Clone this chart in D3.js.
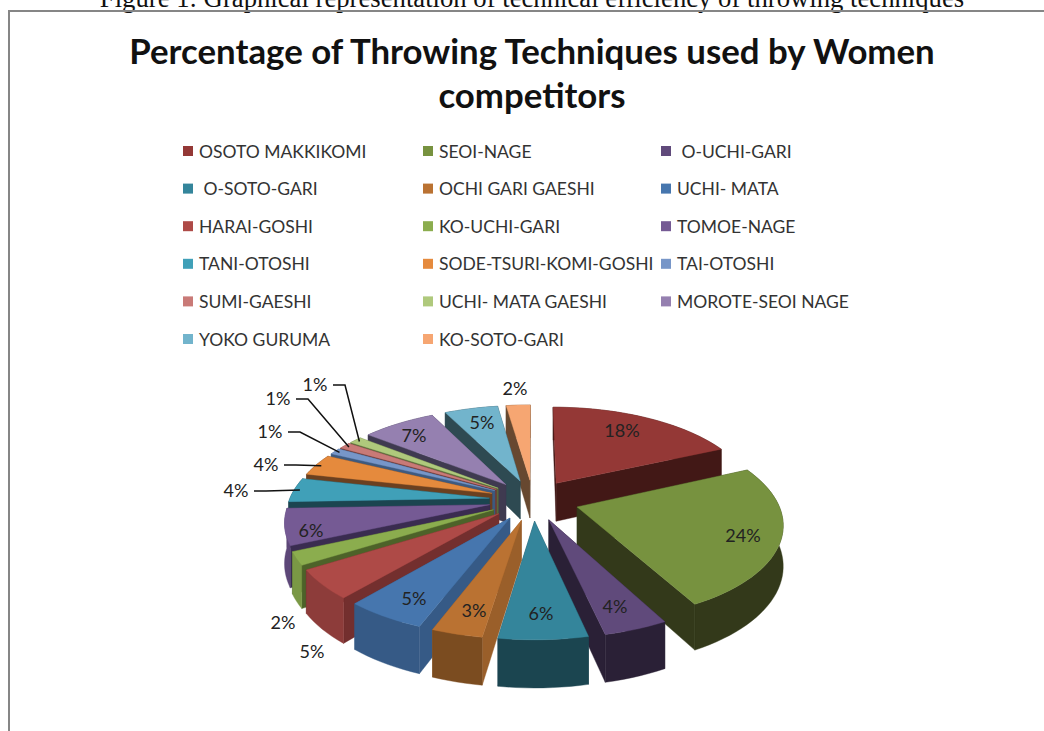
<!DOCTYPE html>
<html lang="en">
<head>
<meta charset="UTF-8">
<title>Percentage of Throwing Techniques used by Women competitors</title>
<script src="https://d3js.org/d3.v7.min.js"></script>
<style>
    html, body { margin: 0; padding: 0; background: #fff; overflow: hidden; }
    svg { display: block; }
    text { font-family: Lato, "Open Sans", sans-serif; fill: #222; }
    .caption { font-family: "Liberation Serif", serif; font-size: 26.7px; fill: #111; }
    .title { font-size: 34.8px; font-weight: 700; fill: #111; }
    .legend-label { font-size: 17.5px; fill: #333; }
    .pct { font-size: 18px; fill: #222; }
</style>
</head>
<body>
<div id="chart"></div>
<script>
// Data
const techniques = ["OSOTO MAKKIKOMI", "SEOI-NAGE", " O-UCHI-GARI", " O-SOTO-GARI", "OCHI GARI GAESHI", "UCHI- MATA",
    "HARAI-GOSHI", "KO-UCHI-GARI", "TOMOE-NAGE", "TANI-OTOSHI", "SODE-TSURI-KOMI-GOSHI", "TAI-OTOSHI",
    "SUMI-GAESHI", "UCHI- MATA GAESHI", "MOROTE-SEOI NAGE", "YOKO GURUMA", "KO-SOTO-GARI"];
const percents = [18.2, 24.0, 4.3, 5.9, 3.4, 5.4, 4.9, 2.2, 6.1, 4.1, 3.7, 1.1, 1.1, 1.2, 7.0, 5.1, 2.3];

// Palette
const topColors = ["#943836", "#77923f", "#604a7b", "#34859b", "#ba7232", "#4676ae", "#ae4a47", "#8bad4e",
    "#755a94", "#40a0b8", "#e58a3d", "#7796c8", "#c97a77", "#afc97c", "#9580b0", "#72b4cc", "#f6a672"];
const wallColors = ["#421816", "#33391a", "#2a2036", "#1b4550", "#9a5f2a", "#365a86", "#732f2e", "#4d6229",
    "#3a2c50", "#1b4550", "#6b4020", "#3d5a80", "#6e3a38", "#5a6b3a", "#3f3a50", "#2e4a52", "#674830"];
const rimColors = ["#421816", "#33391a", "#2a2036", "#1b4550", "#7b4c20", "#365a86", "#8d3c3a", "#7a9845",
    "#5d4778", "#1b4550", "#6b4020", "#3d5a80", "#6e3a38", "#5a6b3a", "#3f3a50", "#2e4a52", "#674830"];

const width = 1044, height = 731;

// Manual placement of percentage labels, [x, y] is the text centre
const labelAt = [[622, 430], [743, 535], [615, 606], [541, 613], [474, 610], [414, 598], [312, 651], [283, 622],
    [311, 530], [236, 490], [266, 464], [270, 431], [278, 398], [315, 384], [414, 435], [482, 422], [515, 388]];
// Labels which have a leader line back to their slice
const leaders = { 9: 1, 10: 1, 11: 1, 12: 1, 13: 1 };

const svg = d3.select("#chart").append("svg")
    .attr("width", width)
    .attr("height", height);

svg.append("text").attr("class", "caption")
    .attr("x", 532).attr("y", 7).attr("text-anchor", "middle")
    .text("Figure 1: Graphical representation of technical efficiency of throwing techniques");

// Frame, the right side runs off the page
svg.append("path")
    .attr("d", "M9,731V11H1044")
    .attr("fill", "none")
    .attr("stroke", "#868686")
    .attr("stroke-width", 2);

svg.append("text").attr("class", "title").attr("x", 532).attr("y", 64)
    .attr("text-anchor", "middle").text("Percentage of Throwing Techniques used by Women");
svg.append("text").attr("class", "title").attr("x", 532).attr("y", 108)
    .attr("text-anchor", "middle").text("competitors");

// Legend, three columns
const legendX = d3.scaleOrdinal().domain([0, 1, 2]).range([183, 423, 661]);
const legendY = d3.scalePoint().domain(d3.range(6)).range([151, 339]);

const legend = svg.append("g").selectAll("g")
    .data(techniques)
    .join("g")
    .attr("transform", (d, i) => `translate(${legendX(i % 3)},${legendY(Math.floor(i / 3))})`);

legend.append("rect")
    .attr("y", -5).attr("width", 10).attr("height", 10)
    .attr("fill", (d, i) => topColors[i]);

legend.append("text")
    .attr("class", "legend-label")
    .attr("x", 16).attr("y", 6.5)
    .attr("xml:space", "preserve")
    .text(d => d);

// Exploded 3D pie
const cx = 533, cy = 500;
const radiusX = 200, radiusY = 92.8;
const perspective = 0.156, depth = 39;
const explode = i => i === 1 ? 0.23 : 0.22;

// x and y are in the pie plane (radius = 1, y towards the back), z is 0 on top and 1 at the bottom
function project(x, y, z) {
    const s = 1 / (1 + perspective * y);
    return [cx + x * radiusX * s, cy - y * radiusY * s + z * depth * s];
}

const arcs = d3.pie().sort(null).value(d => d)(percents);

const slices = arcs.map((a, i) => {
    const mid = (a.startAngle + a.endAngle) / 2;
    const ox = Math.sin(mid) * explode(i), oy = Math.cos(mid) * explode(i);
    const at = (angle, r, z) => project(ox + Math.sin(angle) * r, oy + Math.cos(angle) * r, z);
    return { i, mid, ox, oy, at, a };
});

const line = d3.line();
const chart = svg.append("g");

// back slices first
slices.slice().sort((p, q) => d3.descending(Math.cos(p.mid), Math.cos(q.mid))).forEach(s => {
    const steps = Math.max(3, Math.ceil((s.a.endAngle - s.a.startAngle) / 0.04));
    const angles = d3.range(steps + 1).map(k => s.a.startAngle + (s.a.endAngle - s.a.startAngle) * k / steps);

    const wall = angle => [s.at(angle, 0, 0), s.at(angle, 1, 0), s.at(angle, 1, 1), s.at(angle, 0, 1)];
    const rim = angles.map(t => s.at(t, 1, 0)).concat(angles.slice().reverse().map(t => s.at(t, 1, 1)));

    const faces = [
        { pts: wall(s.a.startAngle), fill: wallColors[s.i], key: Math.cos(s.a.startAngle) * 0.5 + s.oy },
        { pts: wall(s.a.endAngle), fill: wallColors[s.i], key: Math.cos(s.a.endAngle) * 0.5 + s.oy },
        { pts: rim, fill: rimColors[s.i], key: Math.cos(s.mid) + s.oy }
    ].sort((p, q) => d3.descending(p.key, q.key));

    const g = chart.append("g");
    faces.forEach(f => {
        g.append("path")
            .attr("d", line(f.pts) + "Z")
            .attr("fill", f.fill)
            .attr("stroke", f.fill)
            .attr("stroke-width", 0.4);
    });
    g.append("path")
        .attr("d", line([s.at(0, 0, 0)].concat(angles.map(t => s.at(t, 1, 0)))) + "Z")
        .attr("fill", topColors[s.i])
        .attr("stroke", topColors[s.i])
        .attr("stroke-width", 0.4);
});

// Leader lines
slices.filter(s => leaders[s.i]).forEach(s => {
    const [lx, ly] = labelAt[s.i];
    const end = s.at(s.mid, 0.97, 0);
    svg.append("path")
        .attr("d", line([[lx + 18, ly + 1], [lx + 30, ly + 1], end]))
        .attr("fill", "none")
        .attr("stroke", "#111")
        .attr("stroke-width", 1.5);
});

// Percentage labels
svg.append("g").selectAll("text")
    .data(percents)
    .join("text")
    .attr("class", "pct")
    .attr("text-anchor", "middle")
    .attr("x", (d, i) => labelAt[i][0])
    .attr("y", (d, i) => labelAt[i][1] + 6.5)
    .text(d => d3.format(".0f")(d) + "%");
</script>
</body>
</html>
